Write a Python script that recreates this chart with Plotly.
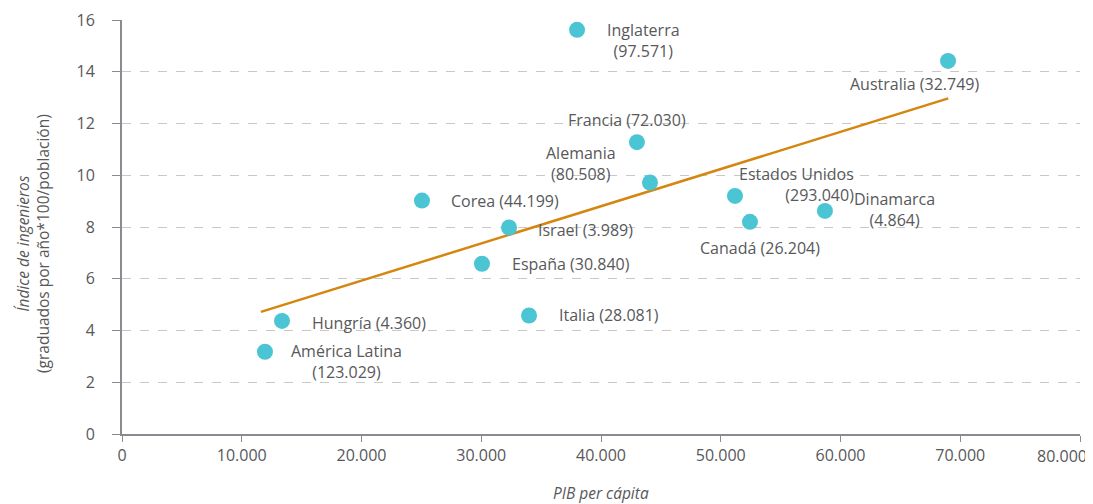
import plotly.graph_objects as go

# PIB per cápita vs. índice de ingenieros
countries = ["Inglaterra", "Australia", "Francia", "Alemania", "Estados Unidos", "Corea",
             "Dinamarca", "Canadá", "Israel", "España", "Italia", "Hungría", "América Latina"]
graduates = ["97.571", "32.749", "72.030", "80.508", "293.040", "44.199",
             "4.864", "26.204", "3.989", "30.840", "28.081", "4.360", "123.029"]
gdp = [38000, 68980, 43000, 44090, 51190, 25050, 58700, 52440, 32320, 30060, 33990, 13360, 11940]
index = [15.62, 14.42, 11.28, 9.72, 9.20, 9.02, 8.62, 8.20, 7.98, 6.58, 4.58, 4.37, 3.18]

trend_x = [11600, 69000]
trend_y = [4.72, 12.97]

x_ticks = [0, 10000, 20000, 30000, 40000, 50000, 60000, 70000, 80000]
x_tick_text = ["0", "10.000", "20.000", "30.000", "40.000", "50.000", "60.000", "70.000", "80.000"]

# label placement: (xanchor, xshift, yshift, two lines?)
label_pos = {
    "Inglaterra": ("center", 66, -11, True),
    "Australia": ("center", -34, -23, False),
    "Francia": ("center", -10, 22, False),
    "Alemania": ("center", -69, 19, True),
    "Estados Unidos": ("right", 121, 11, True),
    "Corea": ("left", 27, 0, False),
    "Dinamarca": ("center", 70, 1, True),
    "Canadá": ("center", 10, -26, False),
    "Israel": ("left", 27, -2, False),
    "España": ("left", 28, 0, False),
    "Italia": ("left", 28, 0, False),
    "Hungría": ("left", 28, -2, False),
    "América Latina": ("center", 82, -10, True),
}

FONT = "Open Sans"
GREY = "#58585a"

fig = go.Figure()
fig.add_trace(go.Scatter(
    x=trend_x, y=trend_y, mode="lines",
    line=dict(color="#d4860f", width=2.5), hoverinfo="skip",
))
fig.add_trace(go.Scatter(
    x=gdp, y=index, mode="markers",
    marker=dict(color="#4bc5d3", size=16),
    text=countries,
))

for name, grads, gx, iy in zip(countries, graduates, gdp, index):
    anchor, dx, dy, two = label_pos[name]
    sep = "<br>" if two else " "
    fig.add_annotation(
        x=gx, y=iy, text=f"{name}{sep}({grads})", showarrow=False,
        xanchor=anchor, yanchor="middle", xshift=dx, yshift=dy,
        align=anchor,
        font=dict(family=FONT, size=16, color=GREY),
    )

# last tick label is pulled inwards so it stays on the page
fig.add_annotation(
    x=x_ticks[-1], xref="x", y=0, yref="paper", yanchor="top",
    xanchor="center", xshift=-18, yshift=-9, showarrow=False,
    text=x_tick_text[-1], font=dict(family=FONT, size=16, color=GREY),
)

# axis titles
fig.add_annotation(
    xref="paper", yref="paper", x=0, y=0.5, xshift=-89, yshift=-17,
    textangle=-90, showarrow=False, xanchor="center", yanchor="middle",
    text="<i>Índice de ingenieros</i><br>(graduados por año*100/población)",
    font=dict(family=FONT, size=15.5, color=GREY),
)
fig.add_annotation(
    xref="paper", yref="paper", x=0.5, y=0, yshift=-46,
    showarrow=False, xanchor="center", yanchor="top",
    text="<i>PIB per cápita</i>",
    font=dict(family=FONT, size=15.5, color=GREY),
)

# the page adds an 8px body margin, so the figure is sized to the rest
fig.update_layout(
    width=1085, height=496,
    paper_bgcolor="white", plot_bgcolor="white",
    showlegend=False,
    separators=",.",
    margin=dict(l=114, r=13, t=12, b=70),
    font=dict(family=FONT, size=16, color=GREY),
)
fig.update_xaxes(
    range=[0, 80000], tickvals=x_ticks, ticktext=x_tick_text[:-1] + [""],
    showgrid=False, zeroline=False, automargin=False,
    showline=True, linecolor="#8a8a90", linewidth=2,
    ticks="outside", ticklen=6, tickcolor="#8a8a90",
)
fig.update_yaxes(
    range=[0, 16], dtick=2, automargin=False,
    showgrid=True, gridcolor="#c8c8c8", griddash="dash", gridwidth=1.2,
    zeroline=False,
    showline=True, linecolor="#8a8a90", linewidth=2,
    ticks="outside", ticklen=8, tickcolor="#8a8a90",
    ticklabelstandoff=14, ticklabeloverflow="allow",
)

fig.write_html("out.html")
